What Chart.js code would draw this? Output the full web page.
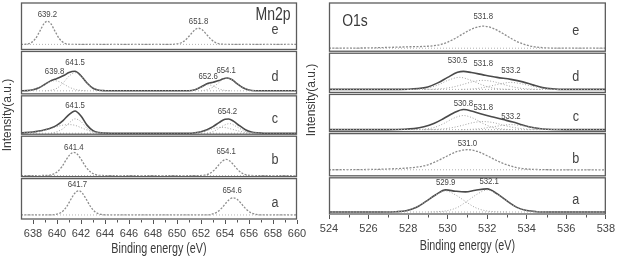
<!DOCTYPE html>
<html>
<head>
<meta charset="utf-8">
<script src="https://cdn.jsdelivr.net/npm/chart.js@4.4.1/dist/chart.umd.min.js"></script>
<style>
  body { margin: 0; background: #fff; width: 618px; height: 257px; overflow: hidden; position: relative; }
  canvas { position: absolute; top: 0; }
  #mnChart { left: 0; }
  #oChart { left: 300px; }
</style>
</head>
<body>
<canvas id="mnChart" width="310" height="257"></canvas>
<canvas id="oChart" width="318" height="257"></canvas>
<script>
// panel letters, top to bottom
const panelNames = ['e', 'd', 'c', 'b', 'a'];

// Mn2p spectra: [binding energy (eV), intensity above the panel baseline]
const mnE = [[637,0],[637.3,0.1],[637.8,1.4],[638.2,5.6],[638.6,13.8],[638.9,20.3],[639.2,23],[639.5,20.3],[639.8,13.8],[640.2,5.6],[640.6,1.4],[641.1,0.1],[642,0],[649.4,0],[649.9,0.3],[650.4,1.9],[650.8,5.4],[651.2,10.8],[651.5,14.5],[651.8,16],[652.1,14.5],[652.4,10.8],[652.8,5.4],[653.2,1.9],[653.7,0.3],[654.3,0],[660,0]];
const mnD = [[637,0],[637.5,0.2],[638,1.1],[638.5,3.1],[639,6.5],[639.5,10],[639.8,11.4],[640.2,13.2],[640.6,15.4],[641,18.2],[641.5,19.4],[642,14.9],[642.5,7.7],[643,2.6],[643.5,0.6],[644,0.1],[644.5,0],[651,0],[651.5,1.1],[652,3.8],[652.6,7.4],[653,8.5],[653.5,10.1],[653.8,11.7],[654.2,12.7],[654.6,10.9],[655,7.2],[655.5,3],[656,0.8],[656.5,0.1],[657,0],[660,0]];
const mnD1 = [[637.5,0.1],[638,1.1],[638.5,3.1],[639,6.4],[639.5,9.4],[639.8,10],[640.2,9],[640.6,6.4],[641,3.7],[641.5,1.4],[642,0.4],[642.5,0]];
const mnD2 = [[639,0],[639.5,0.6],[640,2.6],[640.5,7.7],[641,14.5],[641.5,18],[642,14.5],[642.5,7.7],[643,2.6],[643.5,0.6],[644,0]];
const mnD3 = [[651,0],[651.5,1.1],[652,3.6],[652.6,6],[653,4.8],[653.5,1.9],[654,0.4],[654.5,0]];
const mnD4 = [[652,0],[652.4,0.8],[653,3.7],[653.5,8.2],[653.8,10.9],[654.2,12.5],[654.6,10.9],[655,7.2],[655.5,3],[656,0.8],[656.5,0]];
const mnC = [[637,0.3],[638,1.2],[638.5,2.2],[639,3.5],[639.5,5.2],[640,8],[640.5,12.5],[641,18.5],[641.5,22],[642,17],[642.5,8],[643,2.5],[643.5,0.6],[644,0.1],[644.5,0],[651,0],[651.5,0.5],[652,1.5],[652.5,3.5],[653,6.5],[653.5,10.5],[654,13.8],[654.3,14],[654.7,12],[655.2,7.5],[655.7,3.5],[656.2,1.2],[656.8,0.3],[657.2,0],[660,0]];
const mnC1 = [[637,0.2],[638,1],[638.5,1.8],[639,3],[639.5,4.5],[640,6.5],[640.5,8],[641,8.5],[641.5,7.8],[642,5.5],[642.5,3.2],[643,1.5],[643.5,0.5],[644,0.1],[644.5,0]];
const mnC2 = [[639.5,0],[640,1.5],[640.5,4.5],[641,10],[641.5,14.2],[642,11.5],[642.5,4.8],[643,1],[643.5,0.1],[644,0]];
const mnC3 = [[651,0],[651.5,0.4],[652,1.3],[652.5,2.8],[653,4.5],[653.5,5.8],[654,5.6],[654.5,4.2],[655,2.6],[655.5,1.2],[656,0.4],[656.5,0.1],[657,0]];
const mnC4 = [[652.5,0],[653,1.6],[653.5,4.8],[654,8.3],[654.4,9.5],[655,6.2],[655.5,3],[656,0.9],[656.5,0.2],[657,0]];
const mnB = [[637,0],[639,0.1],[639.5,0.7],[640,3.5],[640.4,8.7],[640.8,16.3],[641.1,21.1],[641.4,23],[641.7,21.1],[642,16.3],[642.4,8.7],[642.8,3.5],[643.3,0.7],[643.8,0.1],[644.5,0],[651.5,0],[652.2,0.3],[652.7,1.9],[653.1,5.4],[653.5,10.9],[653.8,14.5],[654.1,16],[654.4,14.5],[654.7,10.9],[655.1,5.4],[655.5,1.9],[656,0.3],[656.6,0],[660,0]];
const mnA = [[637,0],[639.3,0],[639.9,0.5],[640.4,2.9],[640.8,8.2],[641.2,16.3],[641.5,21.8],[641.8,24],[642.1,21.8],[642.4,16.3],[642.8,8.2],[643.2,2.9],[643.7,0.5],[644.3,0],[652.2,0],[652.8,0.5],[653.3,2.6],[653.7,6.5],[654.1,12.1],[654.4,15.6],[654.7,17],[655,15.6],[655.3,12.1],[655.7,6.5],[656.1,2.6],[656.6,0.5],[657.2,0],[660,0]];

// peak labels: [energy, height the label sits at]
const mnPeaksE = [[639.2,30],[651.8,23]];
const mnPeaksD = [[639.8,19],[641.5,28],[652.6,14],[654.1,20]];
const mnPeaksC = [[641.5,28],[654.2,22]];
const mnPeaksB = [[641.4,28],[654.1,24]];
const mnPeaksA = [[641.7,30],[654.6,24]];

// O1s spectra
const oE = [[524,0],[526,0.3],[527,0.8],[528,1.4],[528.8,1.8],[529.3,2.5],[529.8,4.5],[530.3,8.9],[530.8,14.6],[531.3,19.8],[531.8,22],[532.3,19.8],[532.8,14.6],[533.3,8.7],[533.8,4.3],[534.3,1.7],[534.8,0.55],[535.3,0.1],[536,0],[538,0]];
const oD = [[524,0],[527,0],[528,0.2],[528.5,0.8],[529,2.5],[529.5,6.5],[530,12],[530.5,17],[530.8,18],[531.2,16.8],[531.8,14.5],[532.5,12],[533.2,10],[533.8,7.5],[534.3,4.5],[534.8,1.8],[535.3,0.5],[536,0],[538,0]];
const oD1 = [[528,0],[528.5,0.3],[529,1.4],[529.5,4.3],[530,8.9],[530.6,12],[531.2,8.9],[531.7,4.8],[532.2,1.7],[532.7,0.4],[533.2,0]];
const oD2 = [[528.8,0],[529.3,0.25],[529.8,0.9],[530.3,2.5],[530.8,5.1],[531.3,7.8],[531.8,9],[532.3,7.8],[532.8,5.1],[533.3,2.5],[533.8,0.9],[534.3,0.25],[534.8,0]];
const oD3 = [[530.7,0],[531.2,0.4],[531.7,1.5],[532.2,3.5],[532.7,5.7],[533.2,7],[533.7,5.7],[534.2,3.5],[534.7,1.5],[535.2,0.4],[535.7,0]];
const oC = [[524,0],[527,0],[527.8,0.3],[528.3,1],[528.8,2.8],[529.3,6],[529.8,11],[530.3,16.5],[530.8,20],[531.3,18],[531.8,15],[532.3,12.5],[532.8,10],[533.3,7.5],[533.8,4.5],[534.3,2],[534.8,0.6],[535.3,0.1],[536,0],[538,0]];
const oC1 = [[528.3,0],[528.8,0.5],[529.3,2],[529.8,6],[530.3,11.3],[530.8,14],[531.3,11.3],[531.8,6],[532.3,2],[532.8,0.5],[533.3,0]];
const oC2 = [[528.8,0],[529.3,0.2],[529.8,0.8],[530.3,2.2],[530.8,4.5],[531.3,7],[531.8,8],[532.3,7],[532.8,4.5],[533.3,2.2],[533.8,0.8],[534.3,0.2],[534.8,0]];
const oC3 = [[530.7,0],[531.2,0.3],[531.7,1],[532.2,2.5],[532.7,4],[533.2,5],[533.7,4],[534.2,2.5],[534.7,1],[535.2,0.3],[535.7,0]];
const oB = [[524,0],[525.5,0.2],[526.5,0.5],[527.5,1.2],[528,1.8],[528.5,2.8],[529,5],[529.5,9],[530,14],[530.5,18.3],[531,20],[531.5,18.3],[532,14],[532.5,9],[533,4.9],[533.5,2.2],[534,0.8],[534.5,0.3],[535.5,0],[538,0]];
const oA = [[524,0],[526.8,0],[527.4,0.3],[527.9,1.3],[528.4,4.4],[528.9,10.5],[529.4,17.2],[529.9,22],[530.4,20.7],[530.9,20],[531.4,21.6],[532,23],[532.5,18.1],[533,11],[533.5,4.6],[534,1.4],[534.5,0.3],[535.2,0],[538,0]];
const oA1 = [[526.8,0],[527.4,0.3],[527.9,1.3],[528.4,4.4],[528.9,10.5],[529.4,17],[529.9,21],[530.4,17],[530.9,10.5],[531.4,4.4],[531.9,1.3],[532.4,0.3],[533,0]];
const oA2 = [[529,0],[529.5,0.3],[530,1.4],[530.5,4.6],[531,11],[531.5,17.8],[532,22],[532.5,17.8],[533,11],[533.5,4.6],[534,1.4],[534.5,0.3],[535.1,0]];

const oPeaksE = [[531.8,32]];
const oPeaksD = [[530.5,29],[531.8,26],[533.2,19]];
const oPeaksC = [[530.8,26],[531.8,22],[533.2,13]];
const oPeaksB = [[531.0,26]];
const oPeaksA = [[529.9,29],[532.1,30]];

const FONT = '"Liberation Sans", Arial, sans-serif';

const styles = {
  fit:  { borderColor: '#4a4a4a', borderWidth: 1.6, borderDash: [] },
  raw:  { borderColor: '#8c8c8c', borderWidth: 1.3, borderDash: [2, 1.5] },
  part: { borderColor: '#a3a3a3', borderWidth: 1, borderDash: [1, 1.8] },
  base: { borderColor: '#b0b0b0', borderWidth: 1, borderDash: [1, 2] }
};

function line(pairs, axis, kind) {
  return Object.assign({
    data: pairs.map(p => ({ x: p[0], y: p[1] })),
    yAxisID: axis,
    pointRadius: 0,
    fill: false,
    cubicInterpolationMode: 'monotone'
  }, styles[kind]);
}

// panels top to bottom
const mnPanels = [
  { axis: 'ye', range: [-6, 42], style: 'raw', curves: [mnE], parts: [], peaks: mnPeaksE },
  { axis: 'yd', range: [-4, 40], style: 'fit', curves: [mnD], parts: [mnD1, mnD2, mnD3, mnD4], peaks: mnPeaksD },
  { axis: 'yc', range: [-2, 38], style: 'fit', curves: [mnC], parts: [mnC1, mnC2, mnC3, mnC4], peaks: mnPeaksC },
  { axis: 'yb', range: [-2, 40], style: 'raw', curves: [mnB], parts: [], peaks: mnPeaksB },
  { axis: 'ya', range: [-5, 37], style: 'raw', curves: [mnA], parts: [], peaks: mnPeaksA }
];
const oPanels = [
  { axis: 'ye', range: [-4, 46], style: 'raw', curves: [oE], parts: [], peaks: oPeaksE },
  { axis: 'yd', range: [-4, 37], style: 'fit', curves: [oD], parts: [oD1, oD2, oD3], peaks: oPeaksD },
  { axis: 'yc', range: [-3, 36], style: 'fit', curves: [oC], parts: [oC1, oC2, oC3], peaks: oPeaksC },
  { axis: 'yb', range: [-7, 37], style: 'raw', curves: [oB], parts: [], peaks: oPeaksB },
  { axis: 'ya', range: [-3, 35], style: 'fit', curves: [oA], parts: [oA1, oA2], peaks: oPeaksA }
];

// the figure uses a narrow face, so squeeze text horizontally
function squeezed(ctx, str, x, y, sx) {
  ctx.save();
  ctx.translate(x, y);
  ctx.scale(sx, 1);
  ctx.fillText(str, 0, 0);
  ctx.restore();
}

// boxes, peak labels, letters, minor ticks, titles
const panelDecor = {
  id: 'panelDecor',
  afterDatasetsDraw(chart, args, opts) {
    const ctx = chart.ctx, area = chart.chartArea, xs = chart.scales.x;
    ctx.save();
    ctx.textAlign = 'center';
    ctx.textBaseline = 'middle';
    opts.panels.forEach((p, i) => {
      const ys = chart.scales[p.axis];
      ctx.strokeStyle = '#5c5c5c';
      ctx.lineWidth = 1.3;
      ctx.strokeRect(area.left + 0.5, ys.top + 1, area.width - 1, ys.bottom - ys.top - 2);
      ctx.fillStyle = '#444';
      ctx.font = '9.5px ' + FONT;
      p.peaks.forEach(pk => squeezed(ctx, pk[0].toFixed(1), xs.getPixelForValue(pk[0]), ys.getPixelForValue(pk[1]), 0.82));
      ctx.font = '14px ' + FONT;
      squeezed(ctx, panelNames[i], area.right - opts.letterInset, (ys.top + ys.bottom) / 2 + 4, 0.9);
    });
    // minor ticks
    ctx.strokeStyle = '#555';
    ctx.lineWidth = 1;
    for (let v = Math.ceil(xs.min) + 1; v < xs.max; v++) {
      if (v % 2 === 0) continue;
      const px = Math.round(xs.getPixelForValue(v)) + 0.5;
      ctx.beginPath();
      ctx.moveTo(px, area.bottom);
      ctx.lineTo(px, area.bottom + 2.5);
      ctx.stroke();
    }
    ctx.fillStyle = '#3a3a3a';
    ctx.font = opts.tagSize + 'px ' + FONT;
    squeezed(ctx, opts.tag, opts.tagX(area), opts.tagY(area), opts.tagSqueeze);
    ctx.font = '14px ' + FONT;
    squeezed(ctx, 'Binding energy (eV)', (area.left + area.right) / 2, area.bottom + opts.titleGap, 0.77);
    ctx.translate(opts.yTitle[0], opts.yTitle[1]);
    ctx.rotate(-Math.PI / 2);
    ctx.font = '13px ' + FONT;
    squeezed(ctx, 'Intensity(a.u.)', 0, 0, 0.92);
    ctx.restore();
  }
};

function makeChart(canvasId, panels, xMin, xMax, axisHeight, padding, decor) {
  const datasets = [];
  const scales = {
    x: {
      type: 'linear', min: xMin, max: xMax,
      afterFit: s => { s.height = axisHeight; },
      ticks: { stepSize: 2, includeBounds: false, color: '#444', padding: 3, maxRotation: 0, autoSkip: false,
               font: { size: 11, family: FONT } },
      grid: { drawOnChartArea: false, drawTicks: true, tickLength: 4, color: '#555' },
      border: { display: false }
    }
  };
  panels.forEach(p => {
    datasets.push(line([[xMin, 0], [xMax, 0]], p.axis, 'base'));
    p.parts.forEach(d => datasets.push(line(d, p.axis, 'part')));
    p.curves.forEach(d => datasets.push(line(d, p.axis, p.style)));
  });
  // stacked scales are laid out bottom-up, so register the bottom panel first
  panels.slice().reverse().forEach(p => {
    scales[p.axis] = {
      type: 'linear', display: false, position: 'left', stack: 'spectra',
      stackWeight: p.range[1] - p.range[0], min: p.range[0], max: p.range[1]
    };
  });
  decor.panels = panels;
  return new Chart(document.getElementById(canvasId), {
    type: 'line',
    data: { datasets },
    options: {
      responsive: false,
      animation: false,
      layout: { padding },
      plugins: { legend: { display: false }, tooltip: { enabled: false }, panelDecor: decor },
      scales
    },
    plugins: [panelDecor]
  });
}

makeChart('mnChart', mnPanels, 637, 660, 37, { left: 21, right: 13, top: 2, bottom: 0 }, {
  letterInset: 22, tag: 'Mn2p', tagSize: 18, tagSqueeze: 0.78,
  tagX: a => a.right - 24, tagY: a => a.top + 13,
  titleGap: 29, yTitle: [7, 115]
});
makeChart('oChart', oPanels, 524, 538, 42, { left: 29, right: 11, top: 2, bottom: 0 }, {
  letterInset: 30, tag: 'O1s', tagSize: 16, tagSqueeze: 0.87,
  tagX: a => a.left + 26, tagY: a => a.top + 20,
  titleGap: 31, yTitle: [11, 100]
});
</script>
</body>
</html>
